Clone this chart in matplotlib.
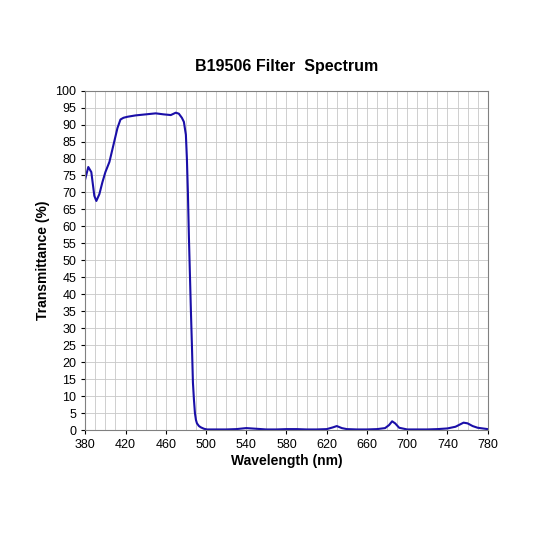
import numpy as np
import matplotlib.pyplot as plt

plt.rcParams['font.family'] = ['Liberation Sans', 'DejaVu Sans']

wavelength = [380, 383, 386, 389, 391, 394, 397, 400, 404, 408, 412, 415, 418, 422, 430, 440, 450, 458, 465, 470,
              473, 476, 478, 480, 481, 482, 483, 484, 485, 486, 487, 488, 489, 490, 491, 493, 495, 498, 501,
              510, 520, 530, 540, 550, 560, 570, 580, 590, 600, 610, 620, 626, 630, 635, 640, 650, 660, 670,
              678, 682, 685, 688, 692, 700, 710, 720, 730, 740, 748, 752, 756, 760, 765, 770, 780]
transmittance = [74, 77.5, 76, 69, 67.5, 69.5, 73, 76, 79, 84, 89, 91.5, 92, 92.3, 92.7, 93, 93.3, 93, 92.8, 93.5,
                 93.2, 92, 90.8, 87, 80, 70, 57, 46, 35, 25, 14, 9, 5, 3, 2, 1.2, 0.8, 0.4, 0.2,
                 0.2, 0.2, 0.3, 0.6, 0.4, 0.2, 0.2, 0.3, 0.3, 0.2, 0.2, 0.3, 0.8, 1.2, 0.6, 0.3, 0.2, 0.2, 0.3,
                 0.6, 1.5, 2.6, 2.0, 0.7, 0.2, 0.2, 0.2, 0.3, 0.5, 1.0, 1.6, 2.2, 2.0, 1.2, 0.7, 0.3]

fig, ax = plt.subplots(figsize=(5.33, 5.33), dpi=100)
fig.subplots_adjust(left=0.16, right=0.915, top=0.83, bottom=0.193)

ax.plot(wavelength, transmittance, color='#1a0fa8', linewidth=1.5)

ax.set_xlim(380, 780)
ax.set_ylim(0, 100)
ax.set_xticks(np.arange(380, 781, 40))
ax.set_yticks(np.arange(0, 101, 5))
ax.set_xticks(np.arange(380, 781, 10), minor=True)
ax.grid(which='both', color='#c8c8c8', linewidth=0.6)
ax.tick_params(which='minor', length=0)
ax.tick_params(labelsize=9, length=3)
for s in ax.spines.values():
    s.set_color('#808080')

ax.set_title('B19506 Filter  Spectrum', fontsize=11.5, fontweight='bold', pad=14)
ax.set_xlabel('Wavelength (nm)', fontsize=10, fontweight='bold', labelpad=2)
ax.set_ylabel('Transmittance (%)', fontsize=10, fontweight='bold')

fig.savefig('out.png', dpi=100)
